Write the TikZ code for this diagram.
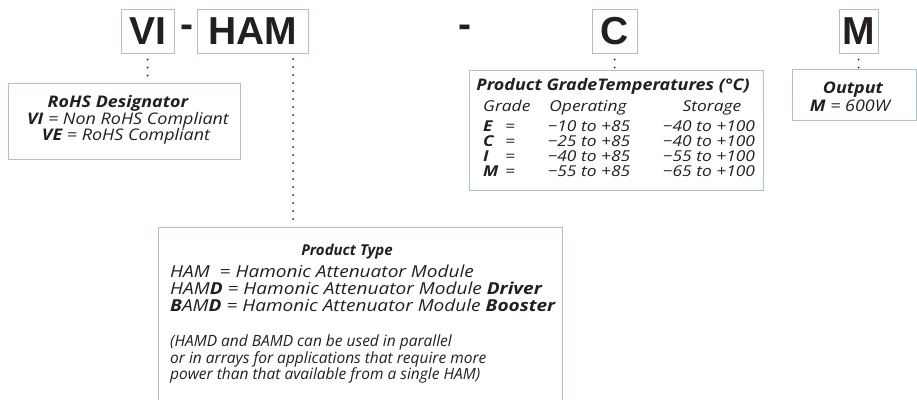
\documentclass[tikz,border=0pt]{standalone}
\usepackage{fontspec}
\setmainfont{Open Sans}[FakeStretch=1.12]
\newfontfamily\plainos{Open Sans}
\newfontfamily\wideos{Open Sans}[FakeStretch=1.155]
\newfontfamily\tabos{Open Sans}[FakeStretch=1.16]
\newfontfamily\hv{Liberation Sans}
\definecolor{bx}{RGB}{170,196,204}
\definecolor{ink}{RGB}{35,31,32}
\begin{document}
\begin{tikzpicture}[x=1pt,y=-1pt,
  code/.style={draw=bx,line width=1pt,inner sep=0pt,minimum height=44pt,
    font=\hv\bfseries\fontsize{39}{39}\selectfont,text=ink},
  sep/.style={inner sep=0pt,font=\hv\bfseries\fontsize{39}{39}\selectfont,text=ink},
  infobox/.style={draw=bx,line width=1pt,inner sep=0pt},
  tx/.style={inner sep=0pt,text=ink,font=\itshape\fontsize{16}{16}\selectfont},
  tl/.style={tx,anchor=base west},
  tc/.style={tx,anchor=base},
  hd/.style={tx,anchor=base,font=\bfseries\itshape\fontsize{16}{16}\selectfont},
  tb/.style={inner sep=0pt,text=ink,font=\tabos\itshape\fontsize{15}{15}\selectfont},
  tbl/.style={tb,anchor=base west},
  tbc/.style={tb,anchor=base},
  tw/.style={tl,font=\wideos\itshape\fontsize{16.5}{16.5}\selectfont},
  tp/.style={tl,font=\plainos\itshape\fontsize{15.5}{15.5}\selectfont},
  dotline/.style={draw=ink,line width=2pt,line cap=round,dash pattern=on 0pt off 8pt,dash phase=2pt}
]
\useasboundingbox (0,0) rectangle (917,399);
\clip (0,0) rectangle (917,399);

% code boxes
\node[code,minimum width=53pt] (vi) at (147.5,31) {VI};
\node[sep] (d1) at (186.5,31) {-};
\node[code,minimum width=111pt] (ham) at (252.5,31) {HAM};
\node[sep] (d2) at (464.5,31) {-};
\node[code,minimum width=45pt] (c) at (614.5,31) {C};
\node[code,minimum width=39pt] (m) at (858.5,31) {M};

% info boxes
\node[infobox,minimum width=232pt,minimum height=76pt] (rohs) at (124,121) {};
\node[infobox,minimum width=294pt,minimum height=120pt] (grade) at (616,130) {};
\node[infobox,minimum width=124pt,minimum height=51pt] (out) at (854,94.5) {};
\node[infobox,minimum width=404pt,minimum height=183pt] (ptype) at (360,318.5) {};

% connectors
\coordinate (hamtap) at (293,53);
\draw[dotline] (vi.south) -- (vi.south |- rohs.north);
\draw[dotline] (hamtap) -- (hamtap |- ptype.north);
\draw[dotline] (c.south) -- (c.south |- grade.north);
\draw[dotline] (m.south) -- (m.south |- out.north);

% RoHS text
\node[hd] (rt) at (118,107) {RoHS Designator};
\node[tc] (r1) at (128,124) {\textbf{VI} = Non RoHS Compliant};
\node[tc] (r2) at (126,140) {\textbf{VE} = RoHS Compliant};

% Output text
\node[hd] (ot) at (853,93) {Output};
\node[tc] (o1) at (850,111) {\textbf{M} = 600W};

% Grade table
\node[hd] (gt) at (613,90) {Product GradeTemperatures (°C)};
\node[tbl] at (483,111) {Grade};
\node[tbc] at (588,111) {Operating};
\node[tbc] at (712,111) {Storage};
\foreach \l/\a/\b [count=\i from 0] in {E/−10 to +85/−40 to +100,C/−25 to +85/−40 to +100,I/−40 to +85/−55 to +100,M/−55 to +85/−65 to +100}{
  \node[tbl] at (483,131+15*\i) {\textbf{\l}};
  \node[tbl] at (505,131+15*\i) {=};
  \node[tbc] at (589,131+15*\i) {\a};
  \node[tbc] at (709,131+15*\i) {\b};
}

% Product type text
\node[hd,font=\plainos\bfseries\itshape\fontsize{15}{15}\selectfont] (pt) at (347,255) {Product Type};
\node[tw] at (170,277) {HAM\ \ = Hamonic Attenuator Module};
\node[tw] at (170,294) {HAM\textbf{D} = Hamonic Attenuator Module \textbf{Driver}};
\node[tw] at (170,311) {\textbf{B}AM\textbf{D} = Hamonic Attenuator Module \textbf{Booster}};
\node[tp] at (170,346) {(HAMD and BAMD can be used in parallel};
\node[tp] at (170,363) {or in arrays for applications that require more};
\node[tp] at (170,379) {power than that available from a single HAM)};
\end{tikzpicture}
\end{document}
